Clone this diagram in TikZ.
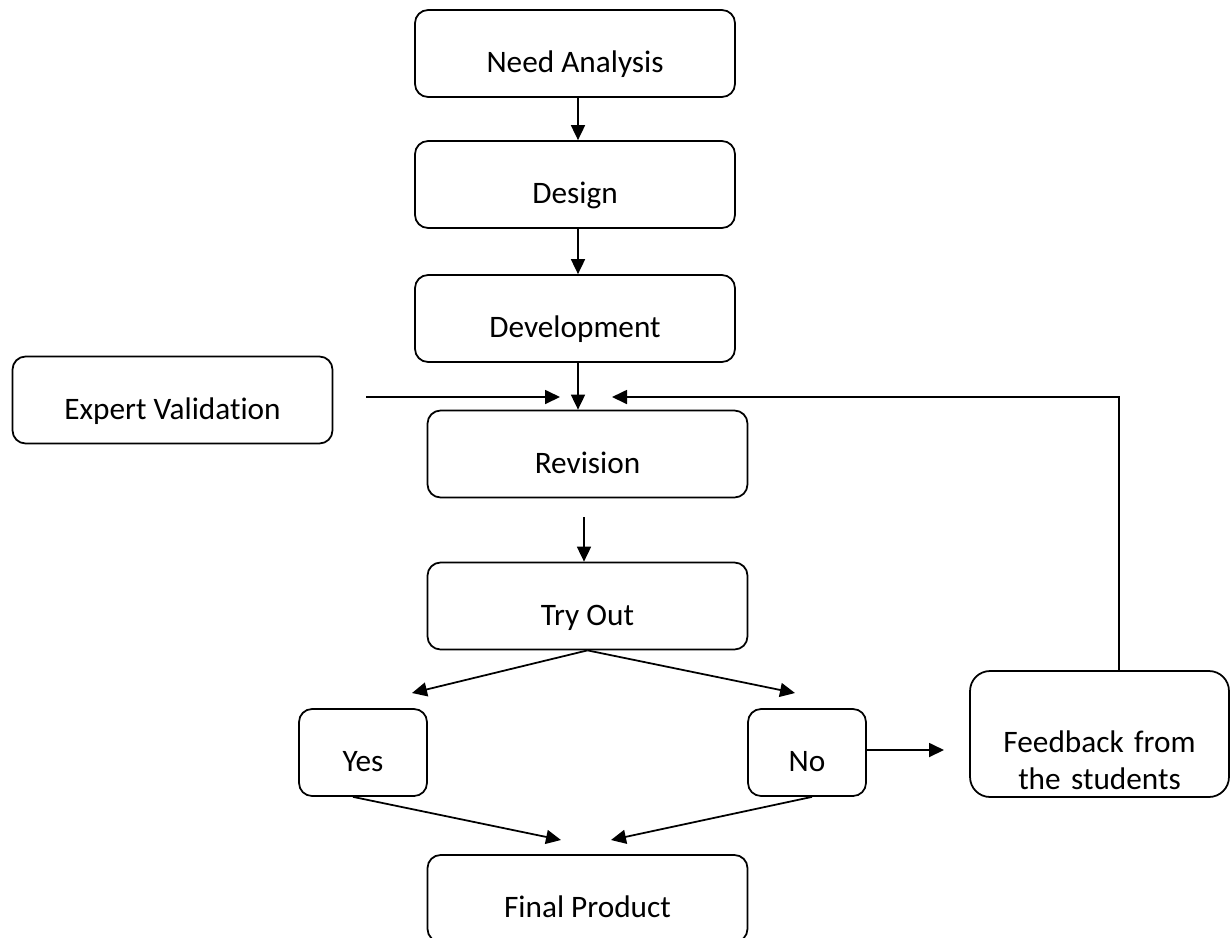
\documentclass[tikz,border=0pt]{standalone}
\usepackage{fontspec}
\setmainfont[Ligatures=NoCommon]{Carlito}
\usetikzlibrary{arrows.meta}

\tikzset{
    stage/.style={draw, line width=1pt, rounded corners=0.26cm, minimum width=6.4cm, minimum height=1.74cm, inner ysep=0pt, text height=0.76cm, text depth=0pt, font=\fontsize{17.8}{21.5}\selectfont},
    flow/.style={line width=1pt, -{Triangle[length=0.3cm, width=0.28cm]}}
}

\begin{document}
\begin{tikzpicture}[x=0.02cm, y=-0.02cm]
        \useasboundingbox (0, 0) rectangle (1230, 937);

        \node [stage] (need) at (575, 53.5) {Need Analysis};
        \node [stage] (design) at (575, 184.5) {Design};
        \node [stage] (devel) at (575, 318.5) {Development};
        \node [stage] (expert) at (172.5, 400) {Expert Validation};
        \node [stage] (revision) at (587.5, 454) {Revision};
        \node [stage] (tryout) at (587.5, 606) {Try Out};
        \node [stage, minimum width=2.56cm] (yes) at (363, 752.5) {Yes};
        \node [stage, minimum width=2.36cm] (no) at (807, 752.5) {No};
        \node [stage, minimum width=5.18cm, minimum height=2.52cm, rounded corners=0.4cm, text width=4.6cm, align=center, text height=0.72cm] (feedback) at (1099.5, 734) {Feedback from\\the students};
        \node [stage] (final) at (587.5, 898.5) {Final Product};

        \coordinate (evfrom) at (366, 397);
        \coordinate (evto) at (560, 397);
        \coordinate (fbto) at (612, 397);
        \coordinate (rvfrom) at (584, 517);
        \coordinate (yesto) at (412, 693);
        \coordinate (noto) at (795, 693);
        \coordinate (fbin) at (944, 750);
        \coordinate (finleft) at (561, 840);
        \coordinate (finright) at (611, 840);

        \draw [flow] ([xshift=0.06cm]need.south) -- ([xshift=0.06cm]design.north);
        \draw [flow] ([xshift=0.06cm]design.south) -- ([xshift=0.06cm]devel.north);
        \draw [flow] ([xshift=0.06cm]devel.south) -- ([xshift=0.06cm]devel.south |- revision.north);
        \draw [flow] (evfrom) -- (evto);
        \draw [flow] ([xshift=0.39cm]feedback.north) |- (fbto);
        \draw [flow] (rvfrom) -- (rvfrom |- tryout.north);

        \draw [flow] (tryout.south) -- (yesto);
        \draw [flow] (tryout.south) -- (noto);
        \draw [flow] (no.east |- fbin) -- (fbin);
        \draw [flow] ([xshift=-0.2cm]yes.south) -- (finleft);
        \draw [flow] ([xshift=0.1cm]no.south) -- (finright);
    \end{tikzpicture}
\end{document}
